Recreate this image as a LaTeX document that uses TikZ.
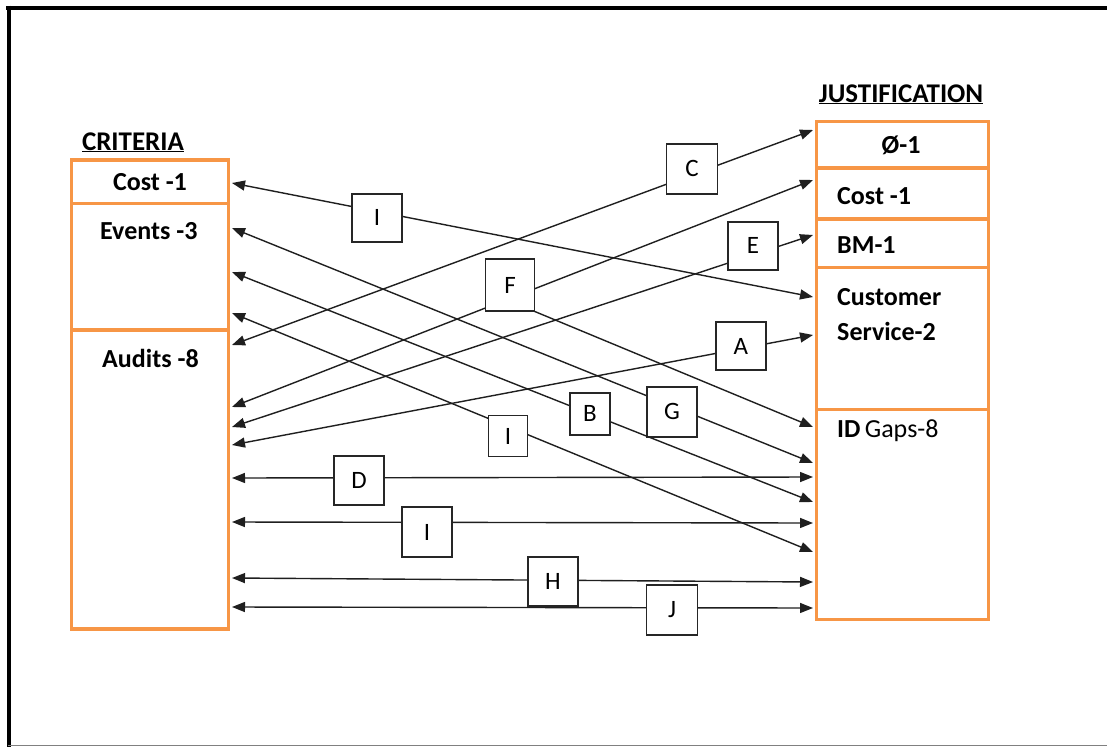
\documentclass[tikz,border=0pt]{standalone}
\usepackage{fontspec}
\setmainfont{Carlito}
\usetikzlibrary{arrows.meta}
\definecolor{boxorange}{RGB}{247,150,70}
\begin{document}
\begin{tikzpicture}[x=1pt,y=-1pt,
  conn/.style={line width=1.4pt, draw=black!88, {Triangle[length=13pt,width=10pt]}-{Triangle[length=13pt,width=10pt]}},
  oneway/.style={line width=1.4pt, draw=black!88, -{Triangle[length=13pt,width=10pt]}},
  lab/.style={draw=black!85, line width=1.8pt, fill=white, minimum width=50pt, minimum height=48pt, inner sep=0pt, outer sep=0pt, font=\fontsize{25}{27}\selectfont},
  cell/.style={draw=boxorange, line width=3.5pt, inner sep=0pt},
  txt/.style={font=\bfseries\fontsize{26}{28}\selectfont, inner sep=0pt},
  ttl/.style={font=\bfseries\fontsize{27}{29}\selectfont, inner sep=0pt}]
\useasboundingbox (0,0) rectangle (1107,747);
\fill[white] (0,0) rectangle (1107,747);
% frame
\draw[line width=4pt] (6,7.5) -- (1107,7.5);
\draw[line width=4pt] (8.5,5.5) -- (8.5,747);
\draw[gray, line width=1.5pt] (8,745.5) -- (1107,745.5);
% left cells
\node[cell, minimum width=157pt, minimum height=43.5pt] (lcost) at (150,181.75) {};
\node[cell, minimum width=157pt, minimum height=126.5pt] (levents) at (150,266.75) {};
\node[cell, minimum width=157pt, minimum height=299pt] (laudits) at (150,479.5) {};
% right cells
\node[cell, minimum width=172pt, minimum height=46.5pt] (rnull) at (902.5,144.75) {};
\node[cell, minimum width=172pt, minimum height=51pt] (rcost) at (902.5,193.5) {};
\node[cell, minimum width=172pt, minimum height=48.5pt] (rbm) at (902.5,243.25) {};
\node[cell, minimum width=172pt, minimum height=142pt] (rcust) at (902.5,338.5) {};
\node[cell, minimum width=172pt, minimum height=210pt] (rgaps) at (902.5,514.5) {};
% titles
\node[ttl, anchor=base] (tcrit) at (133,150) {\underline{CRITERIA}};
\node[ttl, anchor=base] (tjust) at (901,102) {\underline{JUSTIFICATION}};
% texts
\node[txt, anchor=base] (t1) at (150,190) {Cost -1};
\node[txt, anchor=base west] (t2) at (100,239) {Events -3};
\node[txt, anchor=base west] (t3) at (102,367) {Audits -8};
\node[txt, anchor=base] (t4) at (901,153) {Ø-1};
\node[txt, anchor=base west] (t5) at (837,204) {Cost -1};
\node[txt, anchor=base west] (t6) at (837,253) {BM-1};
\node[txt, anchor=base west] (t7) at (837,305) {Customer};
\node[txt, anchor=base west] (t8) at (837,340) {Service-2};
\node[txt, anchor=base west, font=\fontsize{26}{28}\selectfont] (t9) at (837,437) {\textbf{ID}\,Gaps-8};
% endpoints
\coordinate (L1) at (232,183);  \coordinate (R1) at (813,297);
\coordinate (L2) at (232,228);  \coordinate (R2) at (813,463);
\coordinate (L3) at (232,272);  \coordinate (R3) at (813,502);
\coordinate (L4) at (232,313);  \coordinate (R4) at (813,552);
\coordinate (L5) at (232,345);  \coordinate (R5) at (813,130);
\coordinate (L6) at (232,407);  \coordinate (R6) at (813,180);
\coordinate (L7) at (232,427);  \coordinate (R7) at (813,235);
\coordinate (L8) at (232,445);  \coordinate (R8) at (813,335);
\coordinate (L9) at (232,478);  \coordinate (R9) at (813,477);
\coordinate (L10) at (232,522); \coordinate (R10) at (813,523);
\coordinate (L11) at (232,578); \coordinate (R11) at (813,582);
\coordinate (L12) at (232,607); \coordinate (R12) at (813,608);
\coordinate (R13) at (813,427);
% connectors with labels
\draw[conn] (L1) -- node[lab, pos=0.2496, yshift=-6.5pt] (la1) {I} (R1);
\draw[conn] (L2) -- node[lab, pos=0.7573, yshift=-6pt, minimum height=50pt] (la2) {G} (R2);
\draw[conn] (L3) -- node[lab, pos=0.616, minimum width=40pt, minimum height=42pt] (la3) {B} (R3);
\draw[conn] (L4) -- node[lab, pos=0.475, yshift=-9.5pt, minimum width=39pt, minimum height=41pt] (la4) {I} (R4);
\draw[conn] (L5) -- node[lab, pos=0.7917, yshift=6pt, minimum width=51pt, minimum height=50pt] (la5) {C} (R5);
\draw[conn] (L6) -- node[lab, pos=0.4785, yshift=13pt, minimum width=49pt, minimum height=52pt] (la6) {F} (R6);
\draw[conn] (L7) -- node[lab, pos=0.8967, yshift=9pt] (la7) {E} (R7);
\draw[conn] (L8) -- node[lab, pos=0.876, yshift=2.5pt] (la8) {A} (R8);
\draw[conn] (L9) -- node[lab, pos=0.2186, yshift=-3pt, minimum height=49pt] (la9) {D} (R9);
\draw[conn] (L10) -- node[lab, pos=0.3356, yshift=-10pt, minimum height=50pt] (la10) {I} (R10);
\draw[conn] (L11) -- node[lab, pos=0.5525, yshift=-1pt, minimum height=49pt] (la11) {H} (R11);
\draw[conn] (L12) -- node[lab, pos=0.7573, yshift=-2pt, minimum width=51pt, minimum height=50pt] (la12) {J} (R12);
\draw[oneway] (la6.south east) -- (R13);
\end{tikzpicture}
\end{document}
